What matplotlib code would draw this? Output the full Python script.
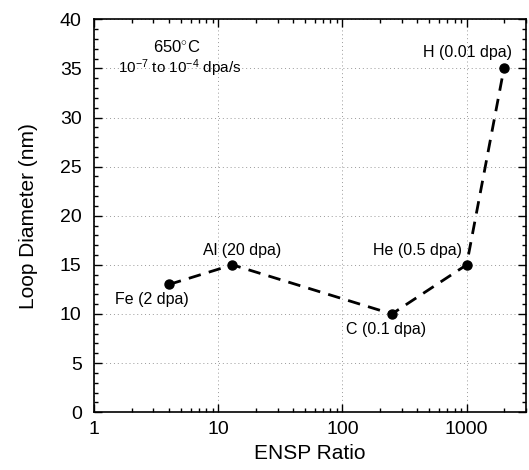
import matplotlib
matplotlib.use("Agg")
import matplotlib.pyplot as plt
from matplotlib.ticker import MultipleLocator, FixedLocator, LogLocator, NullFormatter

plt.rcParams['font.family'] = ['Liberation Sans', 'DejaVu Sans']
plt.rcParams['mathtext.fontset'] = 'custom'
plt.rcParams['mathtext.rm'] = 'Liberation Sans'
plt.rcParams['mathtext.it'] = 'Liberation Sans'

# ion species, ENSP ratio and measured loop size
ions = ["Fe (2 dpa)", "Al (20 dpa)", "C (0.1 dpa)", "He (0.5 dpa)", "H (0.01 dpa)"]
ensp = [4, 13, 250, 1000, 2000]
loop_diam = [13, 15, 10, 15, 35]

# where each label sits (data coords)
label_pos = [(2.9, 11.5), (15.6, 16.5), (226, 8.4), (403, 16.5), (1020, 36.6)]

fig = plt.figure(figsize=(5.29, 4.70), dpi=100)
ax = fig.add_axes([0.178, 0.123, 0.816, 0.836])

ax.plot(ensp, loop_diam, color='black', linestyle=(0, (4.5, 3)), linewidth=2,
        marker='o', markersize=6.5, zorder=3)

for name, (lx, ly) in zip(ions, label_pos):
    ax.text(lx, ly, name, ha='center', va='center', fontsize=11.5)

ax.text(0.192, 0.930, "650$^{\\circ}$C", transform=ax.transAxes, ha='center',
        va='center', fontsize=12)
ax.text(0.199, 0.876, "$10^{-7}$ to $10^{-4}$ dpa/s", transform=ax.transAxes,
        ha='center', va='center', fontsize=11)

ax.set_xscale('log')
ax.set_xlim(1, 3000)
ax.set_ylim(0, 40)
ax.xaxis.set_major_locator(FixedLocator([1, 10, 100, 1000]))
ax.set_xticklabels(["1", "10", "100", "1000"])
ax.xaxis.set_minor_locator(LogLocator(base=10, subs=range(2, 10)))
ax.xaxis.set_minor_formatter(NullFormatter())
ax.yaxis.set_major_locator(MultipleLocator(5))
ax.yaxis.set_minor_locator(MultipleLocator(1))

ax.grid(True, which='major', color='0.6', linestyle=(0, (1, 3)), linewidth=0.7)
ax.tick_params(which='both', direction='in', top=True, right=True, labelsize=14,
               width=1)
ax.tick_params(which='major', length=6)
ax.tick_params(which='minor', length=3)
ax.tick_params(axis='x', which='major', pad=6)
ax.tick_params(axis='y', which='major', pad=9)
for sp in ax.spines.values():
    sp.set_linewidth(1.2)

ax.set_xlabel("ENSP Ratio", fontsize=15, labelpad=5)
ax.set_ylabel("Loop Diameter (nm)", fontsize=15, labelpad=16)

fig.savefig("out.png", dpi=100)
